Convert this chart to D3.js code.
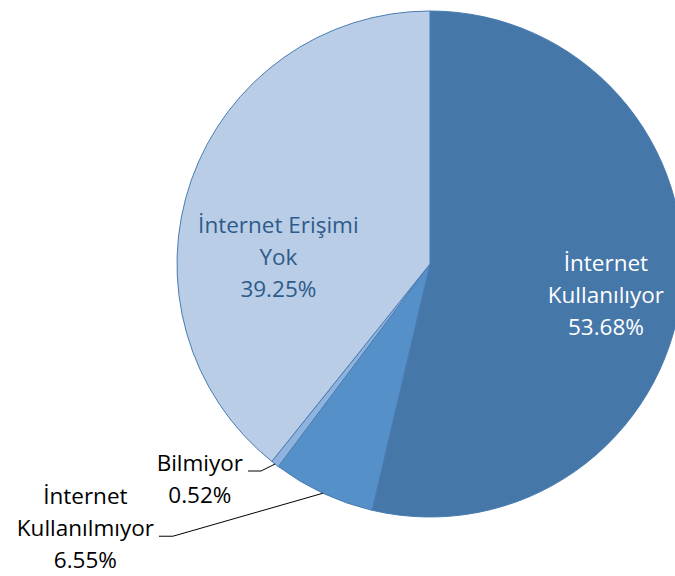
<!DOCTYPE html>
<html>
<head>
<meta charset="utf-8">
<script src="https://cdn.jsdelivr.net/npm/d3@7"></script>
<style>
  html, body { margin: 0; padding: 0; background: #fff; }
  svg { display: block; }
</style>
</head>
<body>
<div id="chart"></div>
<script>
// slices, clockwise from 12 o'clock
var labels = [["İnternet", "Kullanılıyor"], ["İnternet", "Kullanılmıyor"], ["Bilmiyor"], ["İnternet Erişimi", "Yok"]];
var values = [53.68, 6.55, 0.52, 39.25];
var colors = ["#4677A9", "#5590C8", "#8FB3DF", "#B9CDE7"];
var textColors = ["#ffffff", "#000000", "#000000", "#2E5B8A"];

var width = 675, height = 576;
var cx = 430, cy = 264, R = 253;
var lineH = 32;

var svg = d3.select("#chart")
  .append("svg")
  .attr("width", width)
  .attr("height", height);

var g = svg.append("g")
  .attr("transform", "translate(" + cx + "," + cy + ")");

var pie = d3.pie().sort(null).value(function(d){ return d; });
var arcs = pie(values);
var arc = d3.arc().innerRadius(0).outerRadius(R);
var edge = d3.arc().innerRadius(R).outerRadius(R);

g.selectAll("path")
  .data(arcs)
  .enter()
  .append("path")
    .attr("d", arc)
    .style("fill", function(d, i){ return colors[i]; })
    .style("stroke", "#4A7CB3")
    .style("stroke-width", 1)
    .style("stroke-linejoin", "round");

// inside labels: radius fraction + angle shift; outside: elbow offset from slice edge + hook
var layout = [
  { inside: true, r: 0.706, da: 0.059 },
  { inside: false, dx: -150, dy: 43, hook: 14 },
  { inside: false, dx: -14, dy: 7, hook: 13 },
  { inside: true, r: 0.60, da: -0.292 }
];

arcs.forEach(function(d, i) {
  var L = layout[i];
  var lines = labels[i].concat([values[i].toFixed(2) + "%"]);
  var n = lines.length;
  var t = g.append("text")
    .attr("text-anchor", "middle")
    .style("font-family", "'Open Sans', sans-serif")
    .style("font-size", "22.5px")
    .style("fill", textColors[i]);
  var tspans = lines.map(function(s) {
    return t.append("tspan").attr("dy", "0.35em").text(s);
  });
  var x0, y0;
  if (L.inside) {
    var a = (d.startAngle + d.endAngle) / 2 + L.da;
    x0 = Math.sin(a) * R * L.r;
    y0 = -Math.cos(a) * R * L.r - (n - 1) / 2 * lineH;
  } else {
    var p = edge.centroid(d);
    var ex = p[0] + L.dx, ey = p[1] + L.dy;
    var hx = ex - L.hook;
    g.append("path")
      .attr("d", "M" + p[0] + "," + p[1] + "L" + ex + "," + ey + "L" + hx + "," + ey)
      .style("fill", "none")
      .style("stroke", "#000")
      .style("stroke-width", 1);
    var w = d3.max(tspans, function(ts){ return ts.node().getComputedTextLength(); });
    x0 = hx - 5 - w / 2;
    // leader meets the last name line, just below its middle
    y0 = ey - 8 - (n - 2) * lineH;
  }
  tspans.forEach(function(ts, k) {
    ts.attr("x", x0).attr("y", y0 + k * lineH);
  });
});
</script>
</body>
</html>
